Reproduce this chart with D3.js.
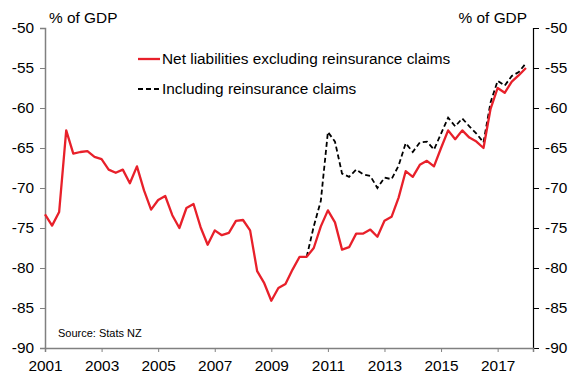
<!DOCTYPE html>
<html>
<head>
<meta charset="utf-8">
<script src="https://cdn.jsdelivr.net/npm/d3@7"></script>
<style>
  body { margin: 0; background: #fff; }
  svg text { font-family: "Liberation Sans", Arial, sans-serif; fill: #000; }
</style>
</head>
<body>
<svg id="chart" width="574" height="376"></svg>
<script>
// quarterly data, first point = 2001 Q1
const firstYear = 2001;
const excluding = [
  -73.3, -74.7, -73.0, -62.8, -65.7, -65.5, -65.4, -66.1, -66.4, -67.7, -68.1, -67.7,
  -69.4, -67.3, -70.3, -72.7, -71.5, -71.0, -73.4, -75.0, -72.5, -72.0, -74.9, -77.1,
  -75.3, -75.9, -75.6, -74.1, -74.0, -75.3, -80.4, -81.9, -84.1, -82.5, -82.0, -80.2,
  -78.6, -78.6, -77.5, -74.8, -72.8, -74.3, -77.7, -77.4, -75.7, -75.7, -75.2, -76.1,
  -74.1, -73.6, -71.2, -67.9, -68.6, -67.1, -66.6, -67.3, -65.0, -62.8, -63.9, -62.8,
  -63.7, -64.2, -65.0, -60.1, -57.5, -58.1, -56.7, -55.9, -55.0
];
// starts in 2010 Q2 (index 37)
const includingStart = 37;
const including = [
  -78.6, -74.8, -71.6, -63.0, -64.2, -68.2, -68.6, -67.7, -68.3, -68.5, -70.0, -68.7,
  -68.9, -67.2, -64.4, -65.5, -64.3, -64.2, -65.2, -63.2, -61.2, -62.3, -61.3, -62.3,
  -63.2, -64.3, -59.3, -56.6, -57.2, -56.0, -55.5, -54.4
];
const yTicks = [-50, -55, -60, -65, -70, -75, -80, -85, -90];
const xTickYears = [2001, 2003, 2005, 2007, 2009, 2011, 2013, 2015, 2017];
const legendLabels = ["Net liabilities excluding reinsurance claims", "Including reinsurance claims"];

const svg = d3.select("#chart");
const margin = { top: 28, bottom: 28, left: 45, right: 41 };
const width = 574, height = 376;
const fontSize = "15.4px";

const x = d3.scaleLinear()
  .domain([firstYear, firstYear + 69 / 4])
  .range([margin.left, width - margin.right]);
const y = d3.scaleLinear()
  .domain([-90, -50])
  .range([height - margin.bottom, margin.top]);

const exData = excluding.map((v, i) => ({ t: firstYear + i / 4, v }));
const inData = including.map((v, i) => ({ t: firstYear + (includingStart + i) / 4, v }));

// axes (plain hyphen for negatives, like the original)
const fmt = d => String(d);

const left = svg.append("g")
  .attr("transform", `translate(${margin.left},0)`)
  .call(d3.axisLeft(y).tickValues(yTicks).tickSize(5).tickPadding(6).tickFormat(fmt));
left.select(".domain").attr("stroke", "#808080").attr("stroke-width", 1.5);
left.selectAll(".tick line").attr("stroke", "#808080");

const right = svg.append("g")
  .attr("transform", `translate(${width - margin.right},0)`)
  .call(d3.axisRight(y).tickValues(yTicks).tickSize(6).tickPadding(6).tickFormat(fmt));
right.select(".domain").attr("stroke", "#000").attr("stroke-width", 1.2);

const bottom = svg.append("g")
  .attr("transform", `translate(0,${height - margin.bottom})`)
  .call(d3.axisBottom(x).tickValues(xTickYears).tickSize(4).tickPadding(8).tickFormat(fmt));
bottom.select(".domain").attr("stroke", "#808080").attr("stroke-width", 1.5);
bottom.selectAll(".tick line").attr("stroke", "#808080");

svg.selectAll(".tick text").style("font-size", fontSize).attr("fill", "#000");

// axis unit labels
svg.append("text").attr("x", 49).attr("y", 23).style("font-size", fontSize).text("% of GDP");
svg.append("text").attr("x", 527).attr("y", 23).attr("text-anchor", "end")
  .style("font-size", fontSize).text("% of GDP");

// lines
const line = d3.line().x(d => x(d.t)).y(d => y(d.v));

svg.append("path")
  .datum(inData)
  .attr("fill", "none")
  .attr("stroke", "#000")
  .attr("stroke-width", 1.8)
  .attr("stroke-dasharray", "5,3")
  .attr("d", line);

svg.append("path")
  .datum(exData)
  .attr("fill", "none")
  .attr("stroke", "#e8202a")
  .attr("stroke-width", 2.3)
  .attr("stroke-linejoin", "round")
  .attr("d", line);

// legend
const legend = svg.append("g");
const legendY = [59, 89];
legend.append("line").attr("x1", 138).attr("x2", 160).attr("y1", legendY[0]).attr("y2", legendY[0])
  .attr("stroke", "#e8202a").attr("stroke-width", 2.3);
legend.append("line").attr("x1", 138).attr("x2", 160).attr("y1", legendY[1]).attr("y2", legendY[1])
  .attr("stroke", "#000").attr("stroke-width", 1.8).attr("stroke-dasharray", "5,3");
legend.selectAll("text.leg")
  .data(legendLabels)
  .enter()
  .append("text")
  .attr("class", "leg")
  .attr("x", 162)
  .attr("y", (d, i) => legendY[i] + 5)
  .style("font-size", fontSize)
  .text(d => d);

// source note
svg.append("text").attr("x", 58).attr("y", 337).style("font-size", "11px").text("Source: Stats NZ");
</script>
</body>
</html>
